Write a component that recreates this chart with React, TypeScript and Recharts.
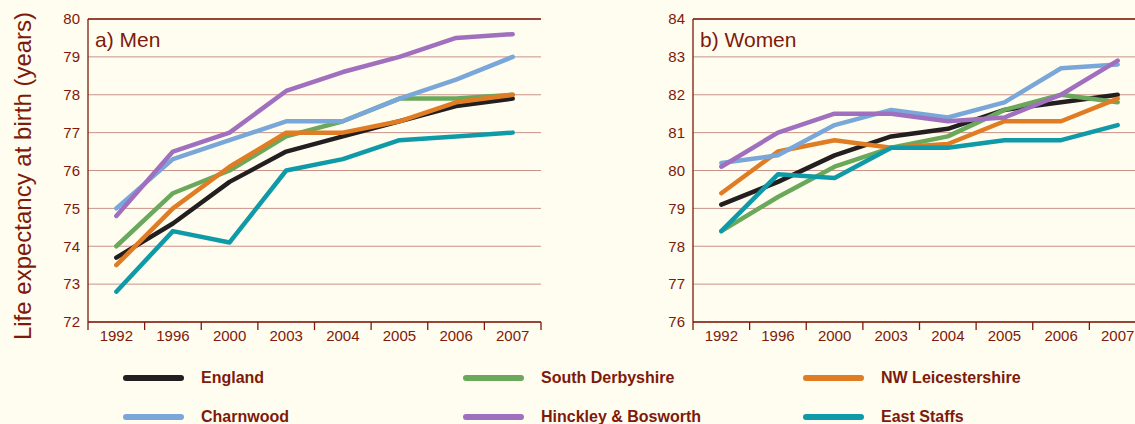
import React from "react";
import {
  LineChart,
  Line,
  XAxis,
  YAxis,
  CartesianGrid,
  ReferenceLine,
} from "recharts";

const YEARS = ["1992", "1996", "2000", "2003", "2004", "2005", "2006", "2007"];

// Men
const MEN_ENGLAND = [73.7, 74.6, 75.7, 76.5, 76.9, 77.3, 77.7, 77.9];
const MEN_SOUTH_DERBYSHIRE = [74.0, 75.4, 76.0, 76.9, 77.3, 77.9, 77.9, 78.0];
const MEN_NW_LEICS = [73.5, 75.0, 76.1, 77.0, 77.0, 77.3, 77.8, 78.0];
const MEN_CHARNWOOD = [75.0, 76.3, 76.8, 77.3, 77.3, 77.9, 78.4, 79.0];
const MEN_HINCKLEY = [74.8, 76.5, 77.0, 78.1, 78.6, 79.0, 79.5, 79.6];
const MEN_EAST_STAFFS = [72.8, 74.4, 74.1, 76.0, 76.3, 76.8, 76.9, 77.0];

// Women
const WOMEN_ENGLAND = [79.1, 79.7, 80.4, 80.9, 81.1, 81.6, 81.8, 82.0];
const WOMEN_SOUTH_DERBYSHIRE = [78.4, 79.3, 80.1, 80.6, 80.9, 81.6, 82.0, 81.8];
const WOMEN_NW_LEICS = [79.4, 80.5, 80.8, 80.6, 80.7, 81.3, 81.3, 81.9];
const WOMEN_CHARNWOOD = [80.2, 80.4, 81.2, 81.6, 81.4, 81.8, 82.7, 82.8];
const WOMEN_HINCKLEY = [80.1, 81.0, 81.5, 81.5, 81.3, 81.4, 82.0, 82.9];
const WOMEN_EAST_STAFFS = [78.4, 79.9, 79.8, 80.6, 80.6, 80.8, 80.8, 81.2];

const MEN_TICKS = [72, 73, 74, 75, 76, 77, 78, 79, 80];
const WOMEN_TICKS = [76, 77, 78, 79, 80, 81, 82, 83, 84];

const SERIES = [
  { key: "england", name: "England", color: "#231f20" },
  { key: "southDerbyshire", name: "South Derbyshire", color: "#6aa85c" },
  { key: "nwLeics", name: "NW Leicestershire", color: "#e07c24" },
  { key: "eastStaffs", name: "East Staffs", color: "#0f9aa8" },
  { key: "charnwood", name: "Charnwood", color: "#7aa7da" },
  { key: "hinckley", name: "Hinckley & Bosworth", color: "#a070bf" },
];

// legend order (row by row)
const LEGEND_ORDER = [
  "england",
  "southDerbyshire",
  "nwLeics",
  "charnwood",
  "hinckley",
  "eastStaffs",
];

const build = (
  e: number[],
  sd: number[],
  nw: number[],
  ch: number[],
  hb: number[],
  es: number[]
) =>
  YEARS.map((year, i) => ({
    year,
    england: e[i],
    southDerbyshire: sd[i],
    nwLeics: nw[i],
    charnwood: ch[i],
    hinckley: hb[i],
    eastStaffs: es[i],
  }));

const menData = build(
  MEN_ENGLAND,
  MEN_SOUTH_DERBYSHIRE,
  MEN_NW_LEICS,
  MEN_CHARNWOOD,
  MEN_HINCKLEY,
  MEN_EAST_STAFFS
);
const womenData = build(
  WOMEN_ENGLAND,
  WOMEN_SOUTH_DERBYSHIRE,
  WOMEN_NW_LEICS,
  WOMEN_CHARNWOOD,
  WOMEN_HINCKLEY,
  WOMEN_EAST_STAFFS
);

const DARK = "#7d1a0b";
const GRID = "#c99389";
const BG = "#fffdef";
const FONT = "'Liberation Sans', Arial, sans-serif";

const PLOT_W = 453;
const HALF_BAND = PLOT_W / YEARS.length / 2;

function YearTick(props: any) {
  const { x, y, payload, index } = props;
  const last = index === YEARS.length - 1;
  return (
    <g>
      <line x1={x - HALF_BAND} x2={x - HALF_BAND} y1={y} y2={y + 8} stroke={DARK} strokeWidth={1.3} />
      {last && (
        <line x1={x + HALF_BAND} x2={x + HALF_BAND} y1={y} y2={y + 8} stroke={DARK} strokeWidth={1.3} />
      )}
      <text x={x} y={y + 19} textAnchor="middle" fill={DARK} fontSize={15} fontFamily={FONT}>
        {payload.value}
      </text>
    </g>
  );
}

function Panel({
  data,
  ticks,
  yWidth,
  right,
}: {
  data: any[];
  ticks: number[];
  yWidth: number;
  right: number;
}) {
  const lo = ticks[0];
  const hi = ticks[ticks.length - 1];
  return (
    <LineChart
      width={560}
      height={350}
      data={data}
      margin={{ top: 19, right, bottom: 0, left: 0 }}
    >
      <CartesianGrid vertical={false} stroke={GRID} strokeWidth={1} />
      <XAxis
        dataKey="year"
        scale="band"
        height={28}
        tickLine={false}
        tickSize={0}
        tickMargin={0}
        axisLine={{ stroke: DARK, strokeWidth: 1.3 }}
        tick={<YearTick />}
        interval={0}
      />
      <YAxis
        domain={[lo, hi]}
        ticks={ticks}
        width={yWidth}
        tickLine={false}
        axisLine={{ stroke: DARK, strokeWidth: 1.3 }}
        tick={{ fill: DARK, fontSize: 15, fontFamily: FONT }}
        tickMargin={8}
        tickSize={0}
        allowDataOverflow
      />
      <YAxis
        yAxisId="r"
        orientation="right"
        domain={[lo, hi]}
        width={0}
        tick={false}
        tickLine={false}
        axisLine={{ stroke: DARK, strokeWidth: 1.3 }}
      />
      <ReferenceLine y={hi} stroke={DARK} strokeWidth={1.3} />
      {SERIES.map((s) => (
        <Line
          key={s.key}
          type="linear"
          dataKey={s.key}
          name={s.name}
          stroke={s.color}
          strokeWidth={4.5}
          strokeLinecap="round"
          strokeLinejoin="round"
          dot={false}
          activeDot={false}
          isAnimationActive={false}
        />
      ))}
    </LineChart>
  );
}

export default function App() {
  const byKey = Object.fromEntries(SERIES.map((s) => [s.key, s]));
  const colX = [123, 463, 803];
  const rowY = [378, 417];
  return (
    <div
      style={{
        position: "fixed",
        left: 0,
        top: 0,
        width: 1135,
        height: 424,
        background: BG,
        overflow: "hidden",
        fontFamily: FONT,
      }}
    >
      <svg width={60} height={350} style={{ position: "absolute", left: 0, top: 0 }}>
        <text
          transform="translate(31,176) rotate(-90)"
          textAnchor="middle"
          fill={DARK}
          fontSize={24}
          fontFamily={FONT}
        >
          Life expectancy at birth (years)
        </text>
      </svg>

      <div style={{ position: "absolute", left: 0, top: 0 }}>
        <Panel data={menData} ticks={MEN_TICKS} yWidth={88} right={19} />
      </div>
      <div style={{ position: "absolute", left: 600, top: 0 }}>
        <Panel data={womenData} ticks={WOMEN_TICKS} yWidth={93} right={14} />
      </div>

      <div style={{ position: "absolute", left: 95, top: 28, fontSize: 21, color: DARK, lineHeight: "24px" }}>
        a) Men
      </div>
      <div style={{ position: "absolute", left: 700, top: 28, fontSize: 21, color: DARK, lineHeight: "24px" }}>
        b) Women
      </div>

      {LEGEND_ORDER.map((k, i) => {
        const s = byKey[k];
        const x = colX[i % 3];
        const y = rowY[Math.floor(i / 3)];
        return (
          <React.Fragment key={k}>
            <div
              style={{
                position: "absolute",
                left: x,
                top: y - 3,
                width: 61,
                height: 6,
                borderRadius: 3,
                background: s.color,
              }}
            />
            <div
              style={{
                position: "absolute",
                left: x + 78,
                top: y - 10,
                fontSize: 16,
                fontWeight: "bold",
                color: DARK,
                lineHeight: "20px",
                whiteSpace: "nowrap",
              }}
            >
              {s.name}
            </div>
          </React.Fragment>
        );
      })}
    </div>
  );
}
